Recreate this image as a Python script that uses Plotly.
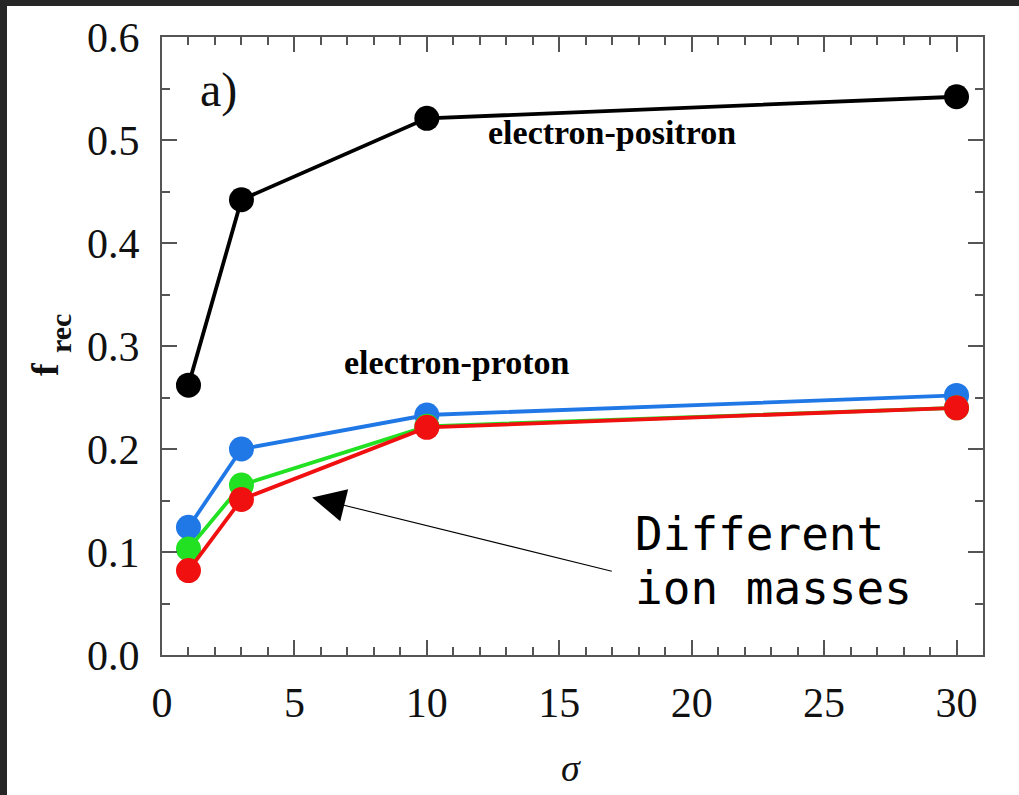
import plotly.graph_objects as go

sigma = [1, 3, 10, 30]
pair_frec = [0.262, 0.442, 0.521, 0.542]
ion_blue = [0.124, 0.200, 0.233, 0.252]
ion_green = [0.103, 0.165, 0.222, 0.240]
ion_red = [0.082, 0.151, 0.221, 0.240]

series = [
    ("electron-positron", pair_frec, "#000000"),
    ("ion mass 1", ion_blue, "#1f78e6"),
    ("ion mass 2", ion_green, "#22e022"),
    ("ion mass 3", ion_red, "#f01010"),
]

W, H = 1019, 795
L, R, T, B = 162, 36, 37, 140
pw, ph = W - L - R, H - T - B

def px_x(p):
    return (p - L) / pw

def px_y(p):
    return (H - B - p) / ph

fig = go.Figure()
for name, vals, col in series:
    fig.add_trace(go.Scatter(
        x=sigma, y=vals, mode="lines+markers", name=name,
        line=dict(color=col, width=3.8),
        marker=dict(color=col, size=25, line=dict(width=0)),
        showlegend=False,
    ))

serif = "Liberation Serif"
axis_common = dict(
    showline=True, linecolor="#555555", linewidth=2, mirror="ticks",
    ticks="inside", ticklen=15, tickwidth=2, tickcolor="#555555",
    showgrid=False, zeroline=False,
    tickfont=dict(family=serif, size=42, color="#111111"),
)

fig.update_xaxes(range=[0, 31], dtick=5, tick0=0,
                 minor=dict(dtick=1, ticks="inside", ticklen=8, tickwidth=2, tickcolor="#555555", showgrid=False),
                 ticklabelstandoff=10,
                 **axis_common)
fig.update_yaxes(range=[0, 0.6], dtick=0.1, tick0=0, tickformat=".1f",
                 minor=dict(dtick=0.05, ticks="inside", ticklen=8, tickwidth=2, tickcolor="#555555", showgrid=False),
                 ticklabelstandoff=12,
                 **axis_common)

annotations = [
    dict(x=2.15, y=0.549, text="a)", font=dict(family=serif, size=48, color="#111111")),
    dict(x=16.98, y=0.507, text="<b>electron-positron</b>", font=dict(family=serif, size=34, color="#000000")),
    dict(x=11.13, y=0.284, text="<b>electron-proton</b>", font=dict(family=serif, size=34, color="#000000")),
    dict(x=px_x(633), y=px_y(534), xref="paper", yref="paper", xanchor="left",
         text="Different", font=dict(family="DejaVu Sans Mono", size=46, color="#000000")),
    dict(x=px_x(633), y=px_y(588), xref="paper", yref="paper", xanchor="left",
         text="ion masses", font=dict(family="DejaVu Sans Mono", size=46, color="#000000")),
    dict(x=px_x(571), y=px_y(768), xref="paper", yref="paper",
         text="<i>σ</i>", font=dict(family=serif, size=38, color="#111111")),
    dict(x=px_x(45), y=px_y(369), xref="paper", yref="paper", textangle=-90,
         text="<b>f</b>", font=dict(family=serif, size=38, color="#111111")),
    dict(x=px_x(60), y=px_y(334), xref="paper", yref="paper", textangle=-90,
         text="<b>rec</b>", font=dict(family=serif, size=30, color="#111111")),
]
for a in annotations:
    a.setdefault("xref", "x")
    a.setdefault("yref", "y")
    a.setdefault("xanchor", "center")
    a.setdefault("yanchor", "middle")
    a["showarrow"] = False
    fig.add_annotation(**a)

# arrow pointing at the ion-mass curves
fig.add_annotation(x=5.67, y=0.153, ax=17.04, ay=0.081, xref="x", yref="y",
                   axref="x", ayref="y", text="", showarrow=True,
                   arrowhead=2, arrowsize=6, arrowwidth=1.1, arrowcolor="#000000")

# dark frame strips of the original screenshot
fig.add_shape(type="rect", xref="paper", yref="paper", x0=px_x(0), x1=px_x(7),
              y0=px_y(H), y1=px_y(0), fillcolor="#262626", line=dict(width=0), layer="above")
fig.add_shape(type="rect", xref="paper", yref="paper", x0=px_x(0), x1=px_x(W),
              y0=px_y(6), y1=px_y(0), fillcolor="#262626", line=dict(width=0), layer="above")

fig.update_layout(
    width=W, height=H,
    margin=dict(l=L, r=R, t=T, b=B, autoexpand=False),
    paper_bgcolor="#ffffff", plot_bgcolor="#ffffff",
    showlegend=False,
)

fig.write_html("out.html")
